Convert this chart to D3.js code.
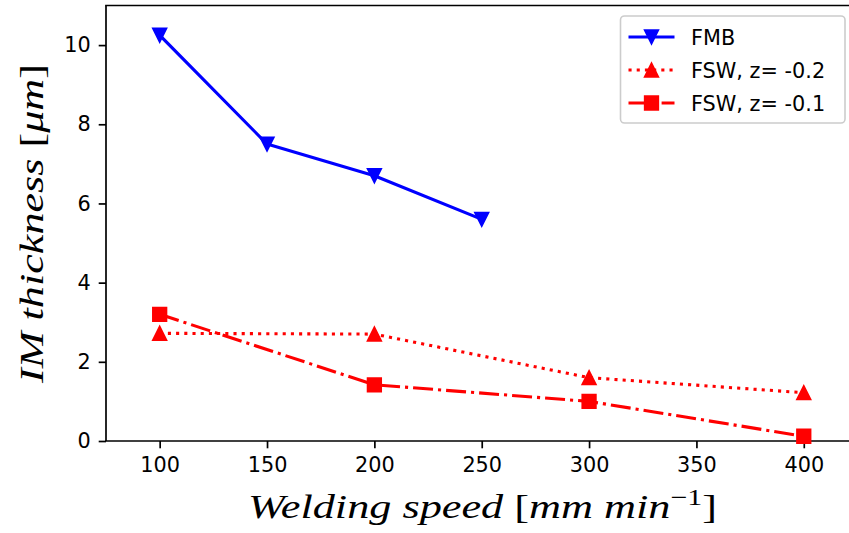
<!DOCTYPE html>
<html>
<head>
<meta charset="utf-8">
<script src="https://cdn.jsdelivr.net/npm/d3@7"></script>
<style>
  html, body { margin: 0; padding: 0; background: #fff; }
  svg { display: block; }
</style>
</head>
<body>
<svg id="chart" width="849" height="533"></svg>
<script>
// ---- data ----
const speedFMB = [100, 150, 200, 250];
const thickFMB = [10.25, 7.5, 6.7, 5.6];
const speedFSW = [100, 200, 300, 400];
const thickFSW02 = [2.72, 2.7, 1.6, 1.22];
const thickFSW01 = [3.2, 1.42, 1.0, 0.12];
const xTicks = [100, 150, 200, 250, 300, 350, 400];
const yTicks = [0, 2, 4, 6, 8, 10];
const seriesNames = ["FMB", "FSW, z= -0.2", "FSW, z= -0.1"];

(function () {
// ---- layout ----
const svg = d3.select("#chart");
const plotLeft = 106, plotTop = 5.5, plotBottom = 441;
const x = d3.scaleLinear().domain([75, 425]).range([plotLeft, plotLeft + 350 * 2.147]);
const y = d3.scaleLinear().domain([0, 11]).range([plotBottom, plotTop]);
const tickFont = "'DejaVu Sans', sans-serif";
const fs = 20.8;
const lw = 3.1;

// markers
const ms = 13.5;
const triDown = s => `M${-s/2},${-s/2}L${s/2},${-s/2}L0,${s/2}Z`;
const triUp = s => `M${-s/2},${s/2}L${s/2},${s/2}L0,${-s/2}Z`;
const square = s => `M${-s/2},${-s/2}H${s/2}V${s/2}H${-s/2}Z`;

const series = [
  { name: seriesNames[0], xs: speedFMB, ys: thickFMB, color: "#0000ff", dash: null, marker: triDown },
  { name: seriesNames[1], xs: speedFSW, ys: thickFSW02, color: "#ff0000", dash: [3.1, 5.1], marker: triUp },
  { name: seriesNames[2], xs: speedFSW, ys: thickFSW01, color: "#ff0000", dash: [20, 5, 3.1, 5], marker: square }
];

// axes
const xAxis = d3.axisBottom(x).tickValues(xTicks).tickSize(7.3).tickPadding(9).tickFormat(d3.format("d"));
const yAxis = d3.axisLeft(y).tickValues(yTicks).tickSize(7.3).tickPadding(8).tickFormat(d3.format("d"));

const gx = svg.append("g").attr("transform", `translate(0,${plotBottom})`).call(xAxis);
const gy = svg.append("g").attr("transform", `translate(${plotLeft},0)`).call(yAxis);
[gx, gy].forEach(g => {
  g.select(".domain").remove();
  g.selectAll(".tick line").attr("stroke", "#000").attr("stroke-width", 1.7);
  g.selectAll(".tick text").attr("font-family", tickFont).attr("font-size", fs).attr("fill", "#000");
});

// spines (left, bottom, top; right is beyond the canvas)
svg.append("line").attr("x1", plotLeft).attr("x2", plotLeft).attr("y1", plotTop).attr("y2", plotBottom)
  .attr("stroke", "#000").attr("stroke-width", 1.7);
svg.append("line").attr("x1", plotLeft - 0.85).attr("x2", 849).attr("y1", plotBottom).attr("y2", plotBottom)
  .attr("stroke", "#000").attr("stroke-width", 1.7);
svg.append("line").attr("x1", plotLeft - 0.85).attr("x2", 849).attr("y1", plotTop).attr("y2", plotTop)
  .attr("stroke", "#000").attr("stroke-width", 1.7);

// series
const line = d3.line();
series.forEach(s => {
  const pts = s.xs.map((v, i) => [x(v), y(s.ys[i])]);
  svg.append("path").attr("d", line(pts))
    .attr("fill", "none").attr("stroke", s.color).attr("stroke-width", lw)
    .attr("stroke-linejoin", "round").attr("stroke-linecap", s.dash ? "butt" : "square")
    .attr("stroke-dasharray", s.dash ? s.dash.join(",") : null);
  svg.append("g").selectAll("path").data(pts).join("path")
    .attr("d", s.marker(ms)).attr("transform", d => `translate(${d[0]},${d[1]})`)
    .attr("fill", s.color).attr("stroke", s.color).attr("stroke-width", 1.8)
    .attr("stroke-linejoin", "miter");
});

// legend
const lg = svg.append("g");
lg.append("rect").attr("x", 620.5).attr("y", 16).attr("width", 224.5).attr("height", 107)
  .attr("rx", 4).attr("fill", "#fff").attr("fill-opacity", 0.8)
  .attr("stroke", "#cccccc").attr("stroke-width", 1.6);
const rowY = [37, 70, 103];
series.forEach((s, i) => {
  const yy = rowY[i];
  lg.append("line").attr("x1", 628.5).attr("x2", 674.5).attr("y1", yy).attr("y2", yy)
    .attr("stroke", s.color).attr("stroke-width", lw)
    .attr("stroke-dasharray", s.dash ? s.dash.join(",") : null);
  lg.append("path").attr("d", s.marker(ms)).attr("transform", `translate(651.5,${yy})`)
    .attr("fill", s.color).attr("stroke", s.color).attr("stroke-width", 1.8);
  lg.append("text").attr("x", 691).attr("y", yy + 7.5)
    .attr("font-family", tickFont).attr("font-size", fs).attr("fill", "#000").text(s.name);
});

// axis labels (LaTeX-like serif italic)
const serif = "'Liberation Serif', 'DejaVu Serif', serif";
const xl = svg.append("text").attr("x", 248).attr("y", 518)
  .attr("font-family", serif).attr("font-size", 34).attr("fill", "#000")
  .attr("textLength", 469).attr("lengthAdjust", "spacingAndGlyphs");
xl.append("tspan").attr("font-style", "italic").text("Welding speed ");
xl.append("tspan").text("[");
xl.append("tspan").attr("font-style", "italic").text("mm min");
xl.append("tspan").attr("font-size", 23).attr("dy", -13).text("−1");
xl.append("tspan").attr("dy", 13).text("]");

const yl = svg.append("text").attr("transform", `translate(43,383) rotate(-90)`)
  .attr("font-family", serif).attr("font-size", 34).attr("fill", "#000")
  .attr("textLength", 319).attr("lengthAdjust", "spacingAndGlyphs");
yl.append("tspan").attr("font-style", "italic").text("IM thickness ");
yl.append("tspan").text("[");
yl.append("tspan").attr("font-style", "italic").text("μm");
yl.append("tspan").text("]");
})();
</script>
</body>
</html>
